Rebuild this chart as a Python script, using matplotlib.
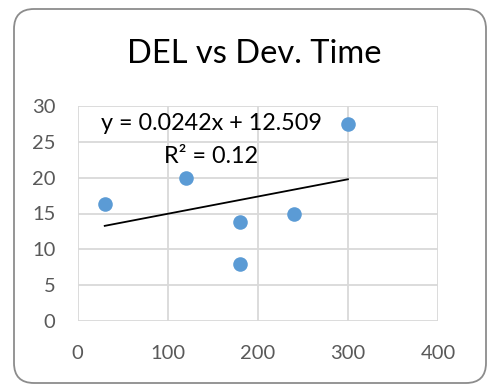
import matplotlib
matplotlib.use("Agg")
import matplotlib.pyplot as plt
from matplotlib.patches import FancyBboxPatch
import numpy as np

# Data
dev_time = [30, 120, 180, 180, 240, 300]
del_vals = [16.3, 20.0, 13.8, 8.0, 15.0, 27.5]
x_ticks = [0, 100, 200, 300, 400]
y_ticks = [0, 5, 10, 15, 20, 25, 30]
title = "DEL vs Dev. Time"
eq_text = "y = 0.0242x + 12.509"
r2_text = "R² = 0.12"

plt.rcParams['font.family'] = ['Lato', 'DejaVu Sans']

W, H = 489, 385
fig = plt.figure(figsize=(W / 100, H / 100), dpi=100)

# background frame with rounded corners
bg = fig.add_axes([0, 0, 1, 1])
bg.set_xlim(0, W)
bg.set_ylim(0, H)
bg.axis('off')
box = FancyBboxPatch((14 + 20, 2 + 20), 472 - 40, 374 - 40,
                     boxstyle="round,pad=20", linewidth=1.3,
                     edgecolor='#8c8c8c', facecolor='white')
bg.add_patch(box)

ax = fig.add_axes([77.7 / W, 1 - 321 / H, (438 - 77.7) / W, (321 - 106) / H])
ax.set_xlim(0, 400)
ax.set_ylim(0, 30)
ax.set_xticks(x_ticks)
ax.set_yticks(y_ticks)
ax.set_facecolor('none')
ax.grid(True, color='#d9d9d9', linewidth=1.3)
ax.set_axisbelow(True)
for s in ax.spines.values():
    s.set_visible(False)
ax.tick_params(length=0, labelsize=14.5, labelcolor='#595959', pad=16)
ax.tick_params(axis='x', pad=17)

ax.scatter(dev_time, del_vals, s=110, color='#5B9BD5', zorder=3, linewidths=0)

# linear trendline
k, b = np.polyfit(dev_time, del_vals, 1)
xs = np.array([min(dev_time), max(dev_time)])
ax.plot(xs, k * xs + b, color='black', linewidth=1.3, zorder=2)

ax.text(0.37, (26.65) / 30, eq_text, transform=ax.transAxes, ha='center',
        va='baseline', fontsize=16.8, color='black')
ax.text(0.37, (22.05) / 30, r2_text, transform=ax.transAxes, ha='center',
        va='baseline', fontsize=16.8, color='black')

fig.text(254 / W, 1 - 63.3 / H, title, ha='center', va='baseline',
         fontsize=23.5, color='black')

fig.savefig("out.png", dpi=100)
